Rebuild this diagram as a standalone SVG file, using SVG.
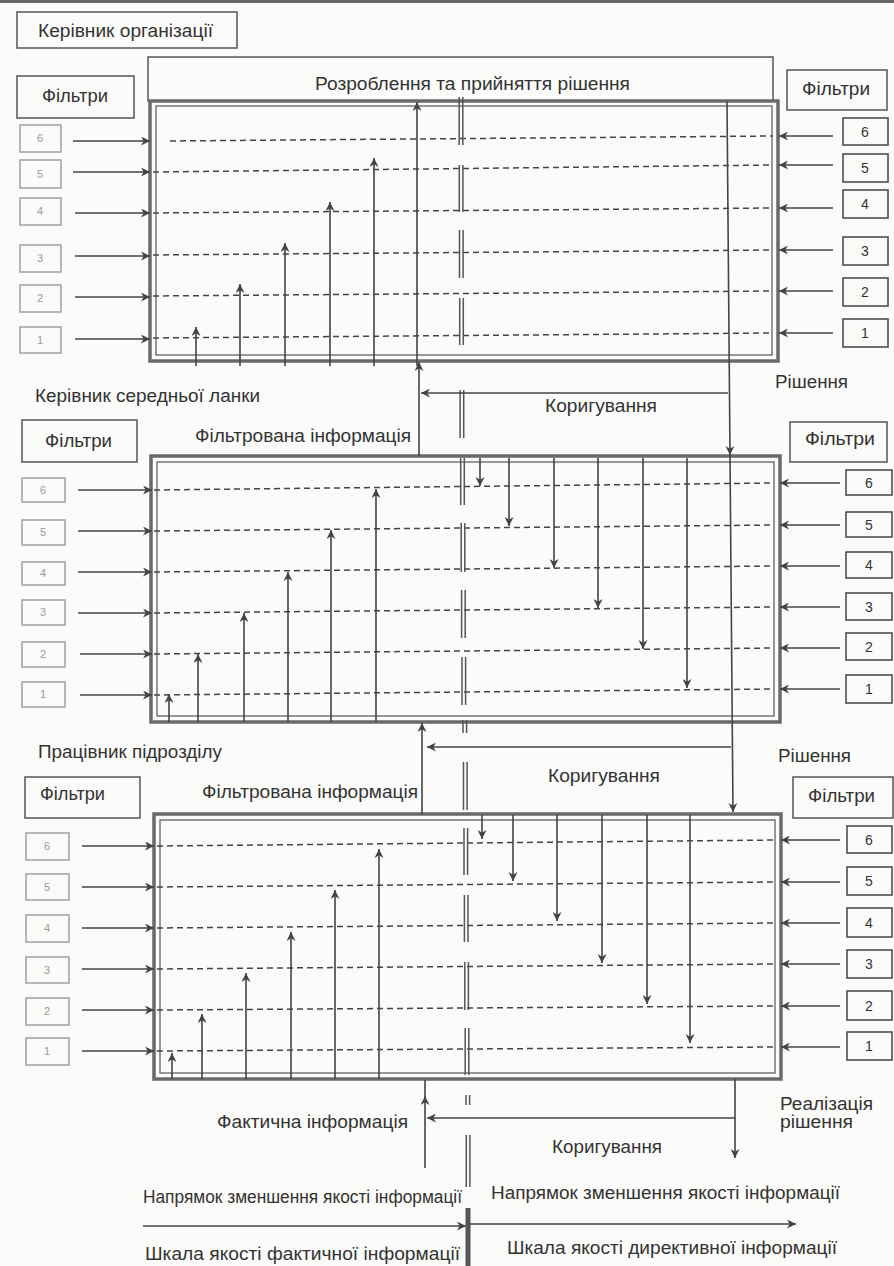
<svg xmlns="http://www.w3.org/2000/svg" width="894" height="1266" viewBox="0 0 894 1266">
<style>
.t{font-family:"Liberation Sans",Arial,sans-serif;font-size:17.5px;fill:#333}
.f{font-family:"Liberation Sans",Arial,sans-serif;font-size:18px;fill:#333}
.dl{font-family:"Liberation Sans",Arial,sans-serif;font-size:11px;fill:#999}
.dr{font-family:"Liberation Sans",Arial,sans-serif;font-size:14px;fill:#333}
.bx{fill:none;stroke:#555;stroke-width:1.5}
.nl{fill:none;stroke:#a0a0a0;stroke-width:1.5}
.nr{fill:none;stroke:#444;stroke-width:1.5}
.fo{fill:none;stroke:#6a6a6a;stroke-width:3.5}
.fi{fill:none;stroke:#555;stroke-width:1.2}
.ds{stroke:#444;stroke-width:1.5;stroke-dasharray:6 4;fill:none}
.ar{stroke:#444;stroke-width:1.6;fill:none;marker-end:url(#ah)}
.ln{stroke:#444;stroke-width:1.6;fill:none}
.cl{stroke:#555;stroke-width:1.5;fill:none}
</style>
<defs>
<marker id="ah" viewBox="0 0 10 10" refX="10" refY="5" markerWidth="12" markerHeight="9" markerUnits="userSpaceOnUse" orient="auto">
<path d="M0,0 L10,5 L0,10 L3,5 z" fill="#444"/>
</marker>
</defs>
<rect width="894" height="1266" fill="#fbfbf9"/>
<line x1="0" y1="1.5" x2="894" y2="1.5" stroke="#666" stroke-width="3"/>

<g id="head">
<rect class="bx" x="17" y="12" width="220" height="36"/>
<text class="t" x="38" y="37" textLength="175" lengthAdjust="spacingAndGlyphs">Керівник організації</text>
</g>

<g id="decision">
<rect class="bx" x="148" y="57" width="625" height="44"/>
<text class="t" x="315" y="90" textLength="315" lengthAdjust="spacingAndGlyphs">Розроблення та прийняття рішення</text>
</g>

<g id="frame1">
<rect class="fo" x="150" y="101" width="628" height="260"/>
<rect class="fi" x="156" y="106" width="616" height="249"/>
</g>
<g id="frame2">
<rect class="fo" x="151" y="456" width="629" height="266"/>
<rect class="fi" x="157" y="462" width="617" height="254"/>
</g>
<g id="frame3">
<rect class="fo" x="154" y="814" width="627" height="265"/>
<rect class="fi" x="160" y="820" width="615" height="253"/>
</g>

<g id="labels">
<text class="t" x="35" y="402" textLength="225" lengthAdjust="spacingAndGlyphs">Керівник середньої ланки</text>
<text class="t" x="775" y="388" textLength="73" lengthAdjust="spacingAndGlyphs">Рішення</text>
<text class="t" x="545" y="412" textLength="112" lengthAdjust="spacingAndGlyphs">Коригування</text>
<text class="t" x="195" y="442" textLength="216" lengthAdjust="spacingAndGlyphs">Фільтрована інформація</text>
<text class="t" x="38" y="758" textLength="184" lengthAdjust="spacingAndGlyphs">Працівник підрозділу</text>
<text class="t" x="778" y="762" textLength="73" lengthAdjust="spacingAndGlyphs">Рішення</text>
<text class="t" x="548" y="782" textLength="112" lengthAdjust="spacingAndGlyphs">Коригування</text>
<text class="t" x="202" y="798" textLength="216" lengthAdjust="spacingAndGlyphs">Фільтрована інформація</text>
<text class="t" x="217" y="1128" textLength="191" lengthAdjust="spacingAndGlyphs">Фактична інформація</text>
<text class="t" x="780" y="1110" textLength="93" lengthAdjust="spacingAndGlyphs">Реалізація</text>
<text class="t" x="780" y="1128" textLength="73" lengthAdjust="spacingAndGlyphs">рішення</text>
<text class="t" x="552" y="1153" textLength="110" lengthAdjust="spacingAndGlyphs">Коригування</text>
<text class="t" x="143" y="1203" textLength="319" lengthAdjust="spacingAndGlyphs">Напрямок зменшення якості інформації</text>
<text class="t" x="491" y="1199" textLength="349" lengthAdjust="spacingAndGlyphs">Напрямок зменшення якості інформації</text>
<text class="t" x="145" y="1260" textLength="315" lengthAdjust="spacingAndGlyphs">Шкала якості фактичної інформації</text>
<text class="t" x="507" y="1254" textLength="330" lengthAdjust="spacingAndGlyphs">Шкала якості директивної інформації</text>
</g>

<g id="filters-left-1">
<rect class="bx" x="17" y="76" width="117" height="42"/>
<text class="f" x="42" y="102" textLength="66" lengthAdjust="spacingAndGlyphs">Фільтри</text>
<rect class="nl" x="20" y="125" width="41" height="27"/><text class="dl" x="40" y="142" text-anchor="middle">6</text>
<rect class="nl" x="20" y="160" width="41" height="28"/><text class="dl" x="40" y="178" text-anchor="middle">5</text>
<rect class="nl" x="20" y="198" width="41" height="27"/><text class="dl" x="40" y="215" text-anchor="middle">4</text>
<rect class="nl" x="20" y="245" width="41" height="27"/><text class="dl" x="40" y="262" text-anchor="middle">3</text>
<rect class="nl" x="20" y="285" width="41" height="27"/><text class="dl" x="40" y="302" text-anchor="middle">2</text>
<rect class="nl" x="20" y="327" width="41" height="26"/><text class="dl" x="40" y="344" text-anchor="middle">1</text>
</g>
<g id="filters-right-1">
<rect class="bx" x="787" y="70" width="100" height="40"/>
<text class="f" x="802" y="95" textLength="68" lengthAdjust="spacingAndGlyphs">Фільтри</text>
<rect class="nr" x="843" y="118" width="45" height="27"/><text class="dr" x="865" y="137" text-anchor="middle">6</text>
<rect class="nr" x="843" y="154" width="45" height="28"/><text class="dr" x="865" y="173" text-anchor="middle">5</text>
<rect class="nr" x="843" y="190" width="45" height="28"/><text class="dr" x="865" y="209" text-anchor="middle">4</text>
<rect class="nr" x="843" y="237" width="45" height="28"/><text class="dr" x="865" y="256" text-anchor="middle">3</text>
<rect class="nr" x="843" y="278" width="45" height="28"/><text class="dr" x="865" y="297" text-anchor="middle">2</text>
<rect class="nr" x="843" y="319" width="45" height="28"/><text class="dr" x="865" y="338" text-anchor="middle">1</text>
</g>

<g id="filters-left-2">
<rect class="bx" x="22" y="420" width="115" height="42"/>
<text class="f" x="45" y="447" textLength="67" lengthAdjust="spacingAndGlyphs">Фільтри</text>
<rect class="nl" x="22" y="478" width="43" height="24"/><text class="dl" x="43" y="494" text-anchor="middle">6</text>
<rect class="nl" x="22" y="520" width="43" height="25"/><text class="dl" x="43" y="536" text-anchor="middle">5</text>
<rect class="nl" x="22" y="562" width="43" height="23"/><text class="dl" x="43" y="577" text-anchor="middle">4</text>
<rect class="nl" x="22" y="600" width="43" height="25"/><text class="dl" x="43" y="616" text-anchor="middle">3</text>
<rect class="nl" x="22" y="642" width="43" height="25"/><text class="dl" x="43" y="658" text-anchor="middle">2</text>
<rect class="nl" x="22" y="682" width="43" height="25"/><text class="dl" x="43" y="698" text-anchor="middle">1</text>
</g>
<g id="filters-right-2">
<rect class="bx" x="790" y="422" width="97" height="40"/>
<text class="f" x="805" y="445" textLength="70" lengthAdjust="spacingAndGlyphs">Фільтри</text>
<rect class="nr" x="846" y="470" width="46" height="25"/><text class="dr" x="869" y="488" text-anchor="middle">6</text>
<rect class="nr" x="846" y="512" width="46" height="25"/><text class="dr" x="869" y="530" text-anchor="middle">5</text>
<rect class="nr" x="846" y="552" width="46" height="26"/><text class="dr" x="869" y="570" text-anchor="middle">4</text>
<rect class="nr" x="846" y="593" width="46" height="27"/><text class="dr" x="869" y="612" text-anchor="middle">3</text>
<rect class="nr" x="846" y="633" width="46" height="27"/><text class="dr" x="869" y="652" text-anchor="middle">2</text>
<rect class="nr" x="846" y="675" width="46" height="28"/><text class="dr" x="869" y="694" text-anchor="middle">1</text>
</g>

<g id="filters-left-3">
<rect class="bx" x="25" y="777" width="115" height="41"/>
<text class="f" x="40" y="800" textLength="65" lengthAdjust="spacingAndGlyphs">Фільтри</text>
<rect class="nl" x="26" y="833" width="43" height="27"/><text class="dl" x="47" y="850" text-anchor="middle">6</text>
<rect class="nl" x="26" y="874" width="43" height="26"/><text class="dl" x="47" y="891" text-anchor="middle">5</text>
<rect class="nl" x="26" y="915" width="43" height="27"/><text class="dl" x="47" y="932" text-anchor="middle">4</text>
<rect class="nl" x="26" y="957" width="43" height="26"/><text class="dl" x="47" y="974" text-anchor="middle">3</text>
<rect class="nl" x="26" y="998" width="43" height="27"/><text class="dl" x="47" y="1015" text-anchor="middle">2</text>
<rect class="nl" x="26" y="1038" width="43" height="27"/><text class="dl" x="47" y="1055" text-anchor="middle">1</text>
</g>
<g id="filters-right-3">
<rect class="bx" x="793" y="777" width="100" height="41"/>
<text class="f" x="808" y="802" textLength="67" lengthAdjust="spacingAndGlyphs">Фільтри</text>
<rect class="nr" x="847" y="826" width="45" height="27"/><text class="dr" x="869" y="845" text-anchor="middle">6</text>
<rect class="nr" x="847" y="867" width="45" height="28"/><text class="dr" x="869" y="886" text-anchor="middle">5</text>
<rect class="nr" x="847" y="908" width="45" height="29"/><text class="dr" x="869" y="928" text-anchor="middle">4</text>
<rect class="nr" x="847" y="950" width="45" height="28"/><text class="dr" x="869" y="969" text-anchor="middle">3</text>
<rect class="nr" x="847" y="991" width="45" height="29"/><text class="dr" x="869" y="1011" text-anchor="middle">2</text>
<rect class="nr" x="847" y="1032" width="45" height="28"/><text class="dr" x="869" y="1051" text-anchor="middle">1</text>
</g>

<g id="levels">
<line class="ds" x1="170" y1="141" x2="773" y2="136"/>
<line class="ds" x1="153" y1="172" x2="773" y2="165"/>
<line class="ds" x1="153" y1="213" x2="773" y2="208"/>
<line class="ds" x1="153" y1="255" x2="773" y2="250"/>
<line class="ds" x1="153" y1="296" x2="773" y2="291"/>
<line class="ds" x1="153" y1="338" x2="773" y2="333"/>
<line class="ds" x1="154" y1="490" x2="774" y2="483"/>
<line class="ds" x1="154" y1="531" x2="774" y2="525"/>
<line class="ds" x1="154" y1="572" x2="774" y2="566"/>
<line class="ds" x1="154" y1="613" x2="774" y2="607"/>
<line class="ds" x1="154" y1="654" x2="774" y2="648"/>
<line class="ds" x1="154" y1="695" x2="774" y2="689"/>
<line class="ds" x1="157" y1="846" x2="776" y2="840"/>
<line class="ds" x1="157" y1="887" x2="776" y2="882"/>
<line class="ds" x1="157" y1="928" x2="776" y2="923"/>
<line class="ds" x1="157" y1="969" x2="776" y2="964"/>
<line class="ds" x1="157" y1="1010" x2="776" y2="1006"/>
<line class="ds" x1="157" y1="1051" x2="776" y2="1047"/>
</g>

<g id="scale-divider">
<g class="cl">
<path d="M459.2,97V145M462.8,97V145"/>
<path d="M459.3,165V212M462.9,165V212"/>
<path d="M459.5,230V278M463.1,230V278"/>
<path d="M459.7,298V345M463.3,298V345"/>
<path d="M460.1,390V438M463.7,390V438"/>
<path d="M460.7,458V505M464.3,458V505"/>
<path d="M461.2,523V572M464.8,523V572"/>
<path d="M461.6,590V638M465.2,590V638"/>
<path d="M462,657V705M465.6,657V705"/>
<path d="M463,720V733M466.6,720V733"/>
<path d="M463.5,762V810M467.1,762V810"/>
<path d="M464,828V875M467.6,828V875"/>
<path d="M464.4,895V942M468,895V942"/>
<path d="M464.8,962V1010M468.4,962V1010"/>
<path d="M465.2,1028V1075M468.8,1028V1075"/>
<path d="M466,1095V1105M469.6,1095V1105"/>
<path d="M466.3,1135V1187M469.9,1135V1187"/>
</g>
<rect x="465.5" y="1208" width="5" height="58" fill="#555"/>
</g>

<g id="connectors">
<line class="ar" x1="73" y1="141" x2="150" y2="141"/>
<line class="ar" x1="73" y1="172" x2="150" y2="172"/>
<line class="ar" x1="75" y1="213" x2="150" y2="213"/>
<line class="ar" x1="75" y1="256" x2="150" y2="256"/>
<line class="ar" x1="75" y1="297" x2="150" y2="297"/>
<line class="ar" x1="75" y1="339" x2="150" y2="339"/>
<line class="ar" x1="78" y1="490" x2="152" y2="490"/>
<line class="ar" x1="78" y1="531" x2="152" y2="531"/>
<line class="ar" x1="78" y1="572" x2="152" y2="572"/>
<line class="ar" x1="78" y1="613" x2="152" y2="613"/>
<line class="ar" x1="80" y1="654" x2="152" y2="654"/>
<line class="ar" x1="80" y1="695" x2="152" y2="695"/>
<line class="ar" x1="82" y1="846" x2="154" y2="846"/>
<line class="ar" x1="82" y1="887" x2="154" y2="887"/>
<line class="ar" x1="82" y1="928" x2="154" y2="928"/>
<line class="ar" x1="82" y1="969" x2="154" y2="969"/>
<line class="ar" x1="82" y1="1010" x2="154" y2="1010"/>
<line class="ar" x1="82" y1="1051" x2="154" y2="1051"/>
<line class="ar" x1="833" y1="136" x2="779" y2="136"/>
<line class="ar" x1="833" y1="165" x2="779" y2="165"/>
<line class="ar" x1="833" y1="208" x2="779" y2="208"/>
<line class="ar" x1="833" y1="250" x2="779" y2="250"/>
<line class="ar" x1="833" y1="291" x2="779" y2="291"/>
<line class="ar" x1="833" y1="333" x2="779" y2="333"/>
<line class="ar" x1="840" y1="483" x2="780" y2="483"/>
<line class="ar" x1="840" y1="525" x2="780" y2="525"/>
<line class="ar" x1="840" y1="566" x2="780" y2="566"/>
<line class="ar" x1="840" y1="607" x2="780" y2="607"/>
<line class="ar" x1="840" y1="648" x2="780" y2="648"/>
<line class="ar" x1="840" y1="689" x2="780" y2="689"/>
<line class="ar" x1="840" y1="840" x2="781" y2="840"/>
<line class="ar" x1="840" y1="882" x2="781" y2="882"/>
<line class="ar" x1="840" y1="923" x2="781" y2="923"/>
<line class="ar" x1="840" y1="964" x2="781" y2="964"/>
<line class="ar" x1="840" y1="1006" x2="781" y2="1006"/>
<line class="ar" x1="840" y1="1047" x2="781" y2="1047"/>
<line class="ar" x1="196" y1="366" x2="196" y2="327"/>
<line class="ar" x1="240" y1="366" x2="240" y2="284"/>
<line class="ar" x1="285" y1="366" x2="285" y2="243"/>
<line class="ar" x1="330" y1="366" x2="330" y2="202"/>
<line class="ar" x1="374" y1="366" x2="374" y2="158"/>
<line class="ar" x1="417" y1="366" x2="417" y2="102"/>
<line class="ar" x1="169" y1="722" x2="169" y2="694"/>
<line class="ar" x1="198" y1="722" x2="198" y2="654"/>
<line class="ar" x1="244" y1="722" x2="244" y2="613"/>
<line class="ar" x1="288" y1="722" x2="288" y2="572"/>
<line class="ar" x1="331" y1="722" x2="331" y2="530"/>
<line class="ar" x1="376" y1="722" x2="376" y2="489"/>
<line class="ar" x1="172" y1="1079" x2="172" y2="1053"/>
<line class="ar" x1="202" y1="1079" x2="202" y2="1014"/>
<line class="ar" x1="246" y1="1079" x2="246" y2="973"/>
<line class="ar" x1="291" y1="1079" x2="291" y2="932"/>
<line class="ar" x1="335" y1="1079" x2="335" y2="890"/>
<line class="ar" x1="379" y1="1079" x2="379" y2="849"/>
<line class="ar" x1="480" y1="458" x2="480" y2="486"/>
<line class="ar" x1="509" y1="458" x2="509" y2="526"/>
<line class="ar" x1="554" y1="458" x2="554" y2="568"/>
<line class="ar" x1="598" y1="458" x2="598" y2="608"/>
<line class="ar" x1="643" y1="458" x2="643" y2="649"/>
<line class="ar" x1="687" y1="458" x2="687" y2="688"/>
<line class="ar" x1="482" y1="815" x2="482" y2="839"/>
<line class="ar" x1="513" y1="815" x2="513" y2="881"/>
<line class="ar" x1="557" y1="815" x2="557" y2="921"/>
<line class="ar" x1="602" y1="815" x2="602" y2="963"/>
<line class="ar" x1="647" y1="815" x2="647" y2="1004"/>
<line class="ar" x1="690" y1="815" x2="690" y2="1043"/>
<line class="ar" x1="419" y1="456" x2="419" y2="362"/>
<line class="ar" x1="422" y1="814" x2="422" y2="723"/>
<line class="ar" x1="425" y1="1168" x2="425" y2="1096"/>
<line class="ln" x1="425" y1="1097" x2="425" y2="1080"/>
<line class="ar" x1="727" y1="101" x2="730" y2="455"/>
<line class="ar" x1="730" y1="455" x2="733" y2="812"/>
<line class="ar" x1="735" y1="1079" x2="735" y2="1158"/>
<line class="ar" x1="728" y1="393" x2="421" y2="393"/>
<line class="ar" x1="731" y1="747" x2="427" y2="747"/>
<line class="ar" x1="735" y1="1118" x2="427" y2="1118"/>
<line class="ar" x1="143" y1="1226" x2="466" y2="1226"/>
<line class="ar" x1="468" y1="1224" x2="796" y2="1224"/>
</g>
</svg>
